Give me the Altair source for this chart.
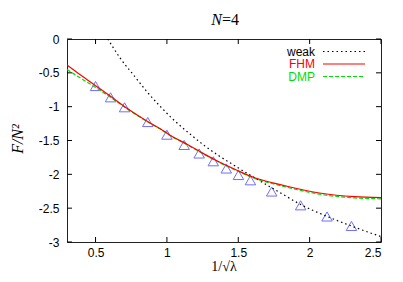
import altair as alt
import pandas as pd

# ---- data ----
weak_x = [0.586, 0.675, 0.768, 0.862, 0.955, 1.048, 1.164, 1.257, 1.36, 1.467, 1.55, 1.642, 1.8, 1.95, 2.12, 2.3, 2.5]
weak_y = [0.0, -0.29, -0.536, -0.783, -1.0, -1.197, -1.408, -1.566, -1.72, -1.862, -1.97, -2.084, -2.28, -2.46, -2.62, -2.77, -2.92]

fhm_x = [0.3, 0.4, 0.5, 0.6, 0.72, 0.85, 0.956, 1.02, 1.15, 1.253, 1.35, 1.487, 1.615, 1.75, 1.848, 2.081, 2.315, 2.5]
fhm_y = [-0.384, -0.54, -0.69, -0.84, -1.024, -1.2, -1.33, -1.419, -1.566, -1.69, -1.80, -1.936, -2.05, -2.13, -2.18, -2.28, -2.33, -2.345]

dmp_x = [0.3, 0.4, 0.5, 0.6, 0.72, 0.85, 0.956, 1.02, 1.15, 1.253, 1.35, 1.487, 1.615, 1.75, 1.848, 2.081, 2.315, 2.5]
dmp_y = [-0.45, -0.585, -0.715, -0.855, -1.03, -1.205, -1.335, -1.424, -1.571, -1.695, -1.806, -1.944, -2.062, -2.143, -2.194, -2.297, -2.348, -2.362]

mc_x = [0.5, 0.605, 0.703, 0.866, 1.0, 1.121, 1.226, 1.325, 1.416, 1.501, 1.585, 1.734, 1.937, 2.122, 2.293]
mc_y = [-0.695, -0.862, -1.009, -1.227, -1.414, -1.566, -1.692, -1.807, -1.914, -2.01, -2.088, -2.254, -2.458, -2.623, -2.763]

x_ticks = [0.5, 1, 1.5, 2, 2.5]
y_ticks = [0, -0.5, -1, -1.5, -2, -2.5, -3]

legend_labels = ["weak", "FHM", "DMP"]
legend_colors = ["#000000", "#ff0000", "#00dd00"]

W, H = 314, 203
xs = alt.Scale(domain=[0.3, 2.5], nice=False, zero=False)
ys = alt.Scale(domain=[-3, 0], nice=False, zero=False)

weak_df = pd.DataFrame({"x": weak_x, "y": weak_y})
fhm_df = pd.DataFrame({"x": fhm_x, "y": fhm_y})
dmp_df = pd.DataFrame({"x": dmp_x, "y": dmp_y})
mc_df = pd.DataFrame({"x": mc_x, "y": mc_y})
xt_df = pd.DataFrame({"x": x_ticks})
yt_df = pd.DataFrame({"y": y_ticks})
one_df = pd.DataFrame({"k": [0]})

lab = "'' + datum.value"
xaxis = alt.Axis(values=x_ticks, ticks=False, domain=False, grid=False, title=None,
                 labelFont="Liberation Sans", labelFontSize=12, labelColor="#000",
                 labelPadding=5, labelExpr=lab)
yaxis = alt.Axis(values=y_ticks, ticks=False, domain=False, grid=False, title=None,
                 labelFont="Liberation Sans", labelFontSize=12, labelColor="#000",
                 labelPadding=8, labelExpr=lab)

X = lambda: alt.X("x:Q", scale=xs, axis=xaxis)
Y = lambda: alt.Y("y:Q", scale=ys, axis=yaxis)

points = alt.Chart(mc_df).mark_point(shape="triangle-up", filled=False, color="#3333ff",
                                     size=110, strokeWidth=1).encode(x=X(), y=Y())

def line(df, color, dash=None, width=1.2):
    kw = dict(color=color, strokeWidth=width, clip=True, interpolate="monotone")
    if dash:
        kw["strokeDash"] = dash
    return alt.Chart(df).mark_line(**kw).encode(x=X(), y=Y())

weak = line(weak_df, "#000000", [1.5, 3], 1.2)
dmp = line(dmp_df, legend_colors[2], [4, 2], 1.2)
fhm = line(fhm_df, legend_colors[1], None, 1.2)

tick_len = 5
xt_bot = alt.Chart(xt_df).mark_rule(color="#000").encode(
    x=X(), y=alt.value(H), y2=alt.value(H - tick_len))
xt_top = alt.Chart(xt_df).mark_rule(color="#000").encode(
    x=X(), y=alt.value(0), y2=alt.value(tick_len))
yt_left = alt.Chart(yt_df).mark_rule(color="#000").encode(
    y=Y(), x=alt.value(0), x2=alt.value(tick_len))
yt_right = alt.Chart(yt_df).mark_rule(color="#000").encode(
    y=Y(), x=alt.value(W), x2=alt.value(W - tick_len))

leg_layers = []
leg_y = [12.5, 25, 37.5]
leg_dash = [[1.5, 3], None, [4, 2]]
for lbl, col, yy, dash in zip(legend_labels, legend_colors, leg_y, leg_dash):
    leg_layers.append(
        alt.Chart(one_df).mark_text(text=lbl, align="right", baseline="middle",
                                    font="Liberation Sans", fontSize=12, color=col).encode(
            x=alt.value(248), y=alt.value(yy)))
    rk = dict(color=col, strokeWidth=1.2)
    if dash:
        rk["strokeDash"] = dash
    leg_layers.append(
        alt.Chart(one_df).mark_rule(**rk).encode(
            x=alt.value(256), x2=alt.value(298), y=alt.value(yy)))

title_n = alt.Chart(one_df).mark_text(text="N", align="right", baseline="middle",
                                      font="Liberation Serif", fontStyle="italic",
                                      fontSize=16, color="#000").encode(
    x=alt.value(155), y=alt.value(-19))
title_rest = alt.Chart(one_df).mark_text(text="=4", align="left", baseline="middle",
                                         font="Liberation Serif", fontSize=16,
                                         color="#000").encode(
    x=alt.value(155), y=alt.value(-19))
ytitle = alt.Chart(one_df).mark_text(text="F/N²", align="center", baseline="middle",
                                     font="Liberation Serif", fontStyle="italic",
                                     fontSize=16, angle=270, color="#000").encode(
    x=alt.value(-49), y=alt.value(100))
xtitle = alt.Chart(one_df).mark_text(text="1/√λ", align="center", baseline="middle",
                                     font="Liberation Serif", fontSize=14,
                                     color="#000").encode(
    x=alt.value(157), y=alt.value(228))

chart = alt.layer(
    points, weak, dmp, fhm, xt_bot, xt_top, yt_left, yt_right,
    *leg_layers, title_n, title_rest, ytitle, xtitle
).properties(
    width=W, height=H,
    autosize=alt.AutoSizeParams(type="none"),
    padding={"left": 59, "top": 31, "right": 14, "bottom": 32},
    background="white",
).configure_view(stroke="#222", strokeWidth=1)

chart.save("out.html", embed_options={"renderer": "svg", "actions": False})
